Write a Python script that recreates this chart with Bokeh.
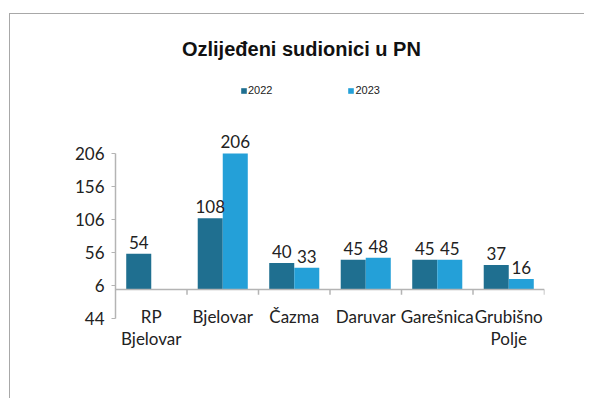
from bokeh.plotting import figure
from bokeh.models import (ColumnDataSource, FactorRange, FixedTicker, LabelSet, Label,
                          Span, Legend, LegendItem)
from bokeh.transform import dodge
from bokeh.core.properties import value
from bokeh.embed import file_html
from bokeh.resources import INLINE

# ---- data ----
title_text = "Ozlijeđeni sudionici u PN"
categories = ["RP Bjelovar", "Bjelovar", "Čazma", "Daruvar", "Garešnica", "Grubišno Polje"]
label_line1 = ["RP", "Bjelovar", "Čazma", "Daruvar", "Garešnica", "Grubišno"]
label_line2 = ["Bjelovar", "", "", "", "", "Polje"]
series_names = ["2022", "2023"]
values_2022 = [54, 108, 40, 45, 45, 37]
values_2023 = [None, 206, 33, 48, 45, 16]
y_ticks = [-44, 6, 56, 106, 156, 206]
y_tick_labels = ["44", "6", "56", "106", "156", "206"]

FONT = "Lato"
C22 = "#1f6f90"
C23 = "#24a0d8"
GRAY = "#b4b4b4"
TXT = "#222222"

v22 = [float(v) for v in values_2022]
v23 = [float("nan") if v is None else float(v) for v in values_2023]
n = len(categories)
src = ColumnDataSource(dict(
    cat=categories,
    v22=v22,
    v23=v23,
    t22=[str(v) for v in values_2022],
    t23=["" if v is None else str(v) for v in values_2023],
    base=[0] * n,
    tick_end=[-8] * n,
    bottom_edge=[y_ticks[0]] * n,
    line1=label_line1,
    line2=label_line2,
))

p = figure(width=575, height=385, output_backend="svg", toolbar_location=None,
           x_range=FactorRange(*categories), y_range=(-122.8, 410.5),
           min_border_left=105, min_border_right=41, min_border_top=4, min_border_bottom=29)
p.styles = {"margin-left": "9px", "margin-top": "13px",
            "border-left": "1px solid #a8a8a8", "border-top": "1px solid #a8a8a8"}
p.outline_line_color = None
p.xgrid.visible = False
p.ygrid.visible = False
p.background_fill_color = "white"
p.border_fill_color = "white"

r22 = p.vbar(x=dodge("cat", -0.175, range=p.x_range), top="v22", bottom="base", width=0.35,
             source=src, fill_color=C22, line_color=None)
r23 = p.vbar(x=dodge("cat", 0.175, range=p.x_range), top="v23", bottom="base", width=0.35,
             source=src, fill_color=C23, line_color=None)

# baseline and category separators
p.add_layout(Span(location=0, dimension="width", line_color=GRAY, line_width=1.5))
p.segment(x0=dodge("cat", 0.5, range=p.x_range), x1=dodge("cat", 0.5, range=p.x_range),
          y0="base", y1="tick_end", source=src, line_color=GRAY, line_width=1.5)

# data labels
for xoff, col, top_col in ((-0.175, "t22", "v22"), (0.175, "t23", "v23")):
    p.add_layout(LabelSet(x=dodge("cat", xoff, range=p.x_range), y=top_col, text=col, source=src,
                          y_offset=5, text_align="center", text_baseline="bottom",
                          text_font=value(FONT), text_font_size="17px", text_color=TXT))

# y axis
ya = p.yaxis[0]
ya.ticker = FixedTicker(ticks=y_ticks)
ya.major_label_overrides = {t: s for t, s in zip(y_ticks, y_tick_labels)}
ya.bounds = (y_ticks[0], y_ticks[-1])
ya.axis_line_color = GRAY
ya.axis_line_width = 1.5
ya.major_tick_line_color = GRAY
ya.major_tick_out = 4
ya.major_tick_in = 0
ya.minor_tick_line_color = None
ya.major_label_standoff = 7
ya.major_label_text_font = FONT
ya.major_label_text_font_size = "17px"
ya.major_label_text_color = TXT

# category labels (two lines)
p.xaxis.visible = False
p.add_layout(LabelSet(x="cat", y="bottom_edge", text="line1", source=src, y_offset=2,
                      text_align="center", text_baseline="middle",
                      text_font=value(FONT), text_font_size="17px", text_color=TXT))
p.add_layout(LabelSet(x="cat", y="bottom_edge", text="line2", source=src, y_offset=-20,
                      text_align="center", text_baseline="middle",
                      text_font=value(FONT), text_font_size="17px", text_color=TXT))

# title
p.add_layout(Label(x=2.6, y=365, text=title_text, text_align="center", text_baseline="middle",
                   text_font="Liberation Sans", text_font_style="bold", text_font_size="20px",
                   text_color="#111111"))

# legend
legend = Legend(items=[LegendItem(label=series_names[0], renderers=[r22]),
                       LegendItem(label=series_names[1], renderers=[r23])],
                location=(125, 274), orientation="horizontal", spacing=75,
                glyph_width=7, glyph_height=7, label_height=7, label_standoff=1,
                padding=0, margin=0, border_line_color=None, background_fill_alpha=0,
                label_text_font="Liberation Sans", label_text_font_size="11px",
                label_text_color=TXT)
p.add_layout(legend)

open("out.html", "w").write(file_html(p, INLINE))
